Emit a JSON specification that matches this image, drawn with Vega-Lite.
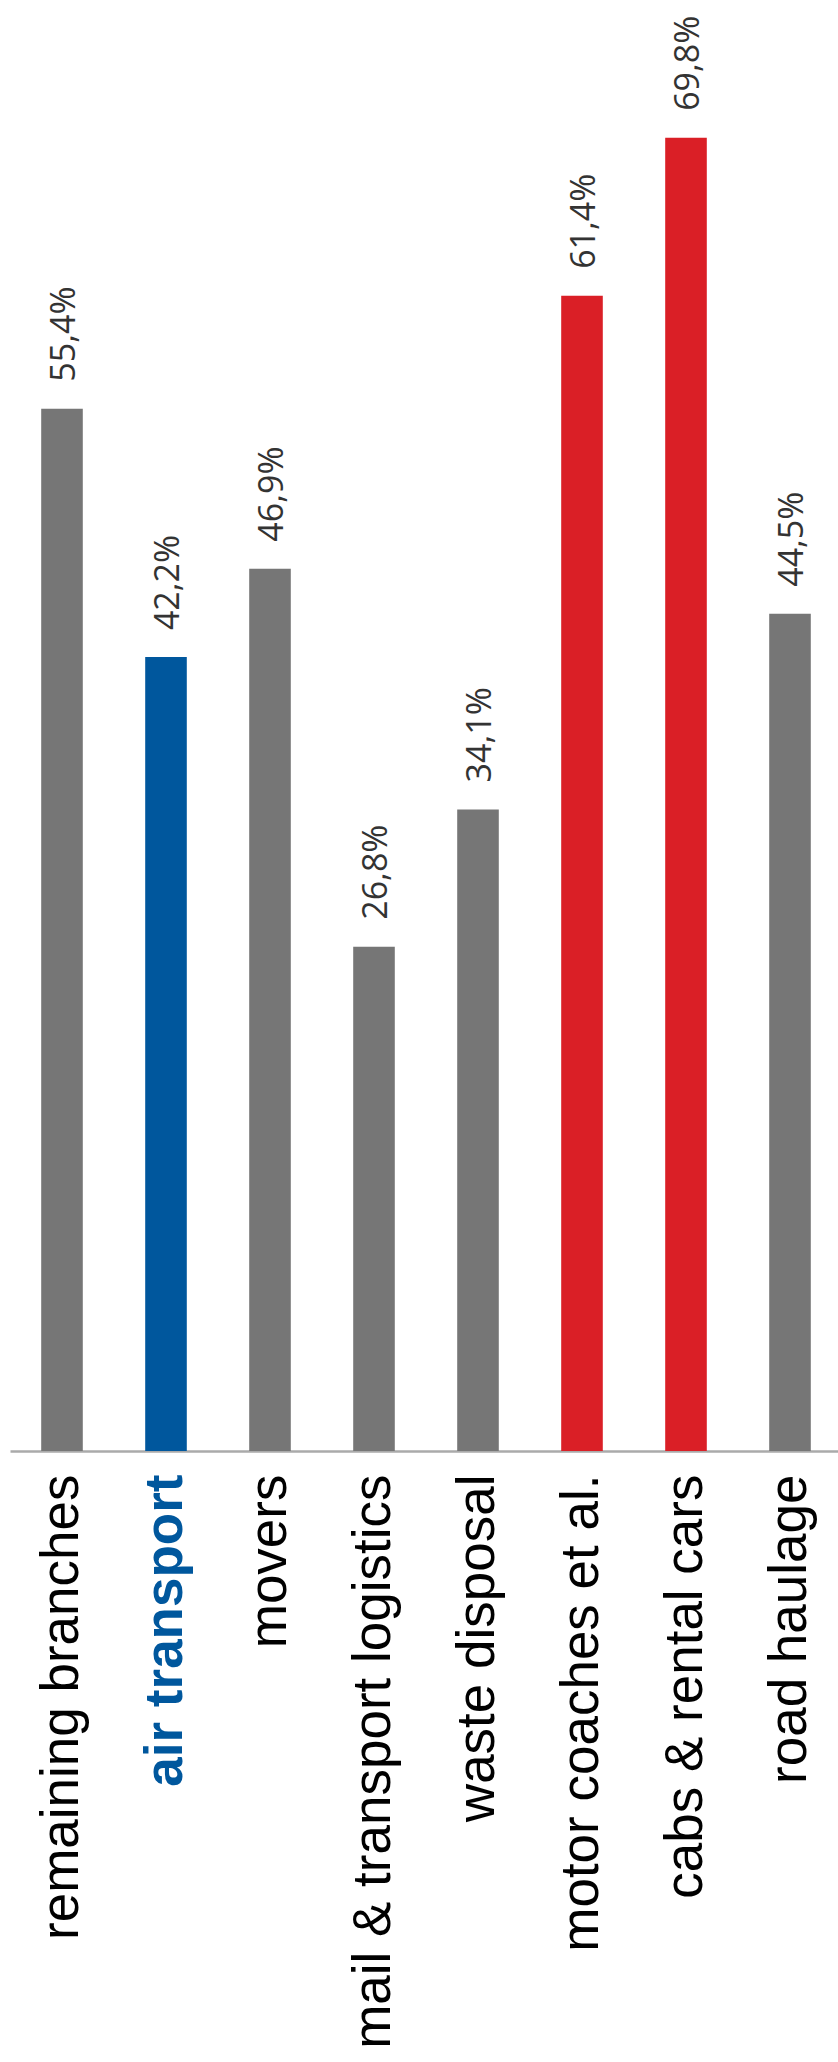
{
  "$schema": "https://vega.github.io/schema/vega-lite/v6.json",
  "autosize": {"type": "none"},
  "width": 832,
  "height": 1411,
  "padding": {"left": 10, "top": 40, "right": 0, "bottom": 611},
  "background": "white",
  "config": {"view": {"stroke": null}},
  "data": {
    "values": [
      {"branch": "remaining branches", "value": 55.4, "group": "other"},
      {"branch": "air transport", "value": 42.2, "group": "focus"},
      {"branch": "movers", "value": 46.9, "group": "other"},
      {"branch": "mail & transport logistics", "value": 26.8, "group": "other"},
      {"branch": "waste disposal", "value": 34.1, "group": "other"},
      {"branch": "motor coaches et al.", "value": 61.4, "group": "high"},
      {"branch": "cabs & rental cars", "value": 69.8, "group": "high"},
      {"branch": "road haulage", "value": 44.5, "group": "other"}
    ]
  },
  "transform": [
    {"calculate": "replace(format(datum.value, '.1f'), '.', ',') + '%'", "as": "label"}
  ],
  "encoding": {
    "x": {
      "field": "branch",
      "type": "nominal",
      "sort": null,
      "scale": {"paddingInner": 0.6, "paddingOuter": 0.3},
      "axis": {
        "title": null,
        "labelAngle": -90,
        "labelAlign": "right",
        "labelBaseline": "middle",
        "labelPadding": 23,
        "labelFont": "Liberation Sans",
        "labelFontSize": 53,
        "labelLimit": 2000,
        "labelColor": {"condition": {"test": "datum.value == 'air transport'", "value": "#00579d"}, "value": "#000000"},
        "labelFontWeight": {"condition": {"test": "datum.value == 'air transport'", "value": "bold"}, "value": "normal"},
        "ticks": false,
        "domainColor": "#aaaaaa",
        "domainWidth": 2.5,
        "grid": false
      }
    },
    "y": {
      "field": "value",
      "type": "quantitative",
      "scale": {"domain": [0, 75], "nice": false},
      "axis": null
    }
  },
  "layer": [
    {
      "mark": {"type": "bar"},
      "encoding": {
        "color": {
          "field": "group",
          "type": "nominal",
          "scale": {"domain": ["other", "focus", "high"], "range": ["#767676", "#00579d", "#da1f26"]},
          "legend": null
        }
      }
    },
    {
      "mark": {"type": "text", "angle": 270, "align": "left", "baseline": "middle", "dx": 27, "dy": 3, "font": "Open Sans", "fontSize": 34, "color": "#333333"},
      "encoding": {"text": {"field": "label"}}
    }
  ]
}
